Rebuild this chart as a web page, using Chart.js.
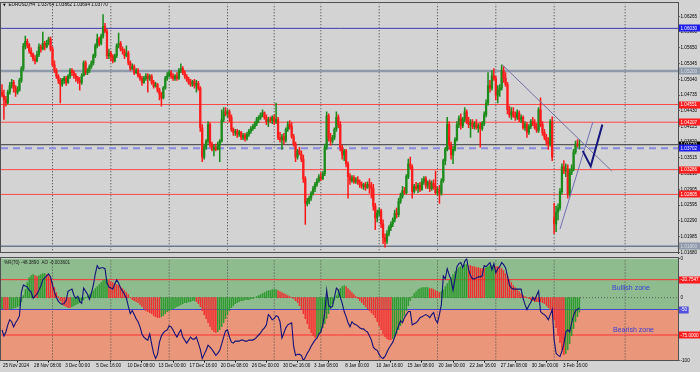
<!DOCTYPE html>
<html>
<head>
<meta charset="utf-8">
<script src="https://cdn.jsdelivr.net/npm/chart.js@4.4.1/dist/chart.umd.min.js"></script>
<style>
  html, body { margin: 0; padding: 0; background: #d3d3d3; }
  .panel { position: absolute; left: 0; width: 700px; }
  #mainBox { top: 0; height: 257px; }
  #subBox { top: 248px; height: 124px; }
</style>
</head>
<body>
<div class="panel" id="mainBox"><canvas id="priceChart"></canvas></div>
<div class="panel" id="subBox"><canvas id="indChart"></canvas></div>
<script>
// EURUSD H4 candles, 25 Nov 2024 16:00 .. 5 Feb 2025
const opens = [
  1.0479,1.0473,1.0464,1.0458,1.0479,1.0492,1.0498,1.0487,1.0479,1.0483,
  1.0502,1.0525,1.0569,1.0578,1.0571,1.0559,1.0553,1.0544,1.0540,1.0552,
  1.0567,1.0563,1.0574,1.0567,1.0574,1.0582,1.0563,1.0532,1.0521,1.0510,
  1.0502,1.0494,1.0502,1.0506,1.0498,1.0510,1.0521,1.0517,1.0511,1.0506,
  1.0502,1.0498,1.0511,1.0536,1.0517,1.0521,1.0529,1.0536,1.0550,1.0569,
  1.0582,1.0574,1.0588,1.0607,1.0597,1.0550,1.0555,1.0548,1.0540,1.0550,
  1.0569,1.0574,1.0563,1.0559,1.0550,1.0555,1.0536,1.0525,1.0529,1.0517,
  1.0521,1.0511,1.0506,1.0498,1.0506,1.0511,1.0506,1.0510,1.0498,1.0490,
  1.0494,1.0483,1.0475,1.0468,1.0487,1.0506,1.0511,1.0517,1.0510,1.0506,
  1.0511,1.0506,1.0521,1.0525,1.0517,1.0510,1.0504,1.0498,1.0494,1.0500,
  1.0492,1.0496,1.0487,1.0410,1.0353,1.0372,1.0384,1.0416,1.0378,1.0368,
  1.0372,1.0368,1.0376,1.0384,1.0426,1.0441,1.0437,1.0441,1.0430,1.0407,
  1.0401,1.0403,1.0397,1.0401,1.0391,1.0395,1.0389,1.0397,1.0403,1.0408,
  1.0412,1.0418,1.0426,1.0430,1.0435,1.0439,1.0430,1.0422,1.0426,1.0424,
  1.0430,1.0422,1.0426,1.0391,1.0387,1.0393,1.0386,1.0407,1.0416,1.0412,
  1.0393,1.0378,1.0353,1.0365,1.0359,1.0349,1.0311,1.0263,1.0267,1.0273,
  1.0283,1.0292,1.0300,1.0307,1.0315,1.0311,1.0321,1.0372,1.0433,1.0391,
  1.0384,1.0391,1.0407,1.0430,1.0416,1.0372,1.0357,1.0365,1.0340,1.0315,
  1.0307,1.0313,1.0305,1.0309,1.0304,1.0300,1.0296,1.0300,1.0294,1.0300,
  1.0296,1.0292,1.0258,1.0235,1.0244,1.0248,1.0223,1.0197,1.0189,1.0204,
  1.0216,1.0223,1.0231,1.0244,1.0241,1.0267,1.0277,1.0288,1.0284,1.0315,
  1.0340,1.0334,1.0286,1.0296,1.0292,1.0298,1.0290,1.0305,1.0311,1.0298,
  1.0304,1.0292,1.0302,1.0296,1.0284,1.0290,1.0283,1.0307,1.0346,1.0368,
  1.0416,1.0376,1.0357,1.0368,1.0387,1.0416,1.0428,1.0414,1.0426,1.0441,
  1.0422,1.0416,1.0420,1.0412,1.0418,1.0410,1.0414,1.0408,1.0418,1.0435,
  1.0458,1.0492,1.0487,1.0511,1.0506,1.0473,1.0483,1.0487,1.0521,1.0506,
  1.0494,1.0445,1.0435,1.0441,1.0433,1.0430,1.0439,1.0426,1.0430,1.0410,
  1.0416,1.0401,1.0412,1.0422,1.0418,1.0410,1.0405,1.0445,1.0416,1.0401,
  1.0391,1.0384,1.0378,1.0422,1.0235,1.0223,1.0246,1.0254,1.0286,1.0334,
  1.0326,1.0330,1.0281,1.0323,1.0330,1.0363,1.0378,1.0376
];
const highs = [
  1.0494,1.0483,1.0471,1.0483,1.0498,1.0504,1.0502,1.0492,1.0490,1.0506,
  1.0529,1.0574,1.0588,1.0582,1.0574,1.0565,1.0555,1.0550,1.0559,1.0573,
  1.0571,1.0596,1.0578,1.0580,1.0586,1.0586,1.0567,1.0540,1.0525,1.0513,
  1.0506,1.0506,1.0510,1.0510,1.0513,1.0525,1.0525,1.0521,1.0515,1.0510,
  1.0508,1.0515,1.0540,1.0540,1.0525,1.0532,1.0540,1.0553,1.0573,1.0592,
  1.0586,1.0592,1.0630,1.0613,1.0601,1.0563,1.0559,1.0552,1.0553,1.0573,
  1.0594,1.0578,1.0567,1.0563,1.0569,1.0559,1.0540,1.0534,1.0532,1.0525,
  1.0525,1.0515,1.0510,1.0510,1.0515,1.0515,1.0513,1.0513,1.0502,1.0498,
  1.0496,1.0487,1.0479,1.0490,1.0510,1.0517,1.0521,1.0521,1.0515,1.0513,
  1.0517,1.0525,1.0534,1.0529,1.0521,1.0513,1.0508,1.0504,1.0502,1.0504,
  1.0502,1.0500,1.0490,1.0416,1.0378,1.0387,1.0422,1.0420,1.0382,1.0376,
  1.0378,1.0382,1.0387,1.0445,1.0449,1.0449,1.0445,1.0445,1.0435,1.0410,
  1.0407,1.0407,1.0405,1.0403,1.0399,1.0399,1.0401,1.0407,1.0412,1.0416,
  1.0422,1.0430,1.0433,1.0439,1.0445,1.0441,1.0435,1.0430,1.0431,1.0433,
  1.0435,1.0458,1.0430,1.0401,1.0397,1.0399,1.0410,1.0422,1.0424,1.0420,
  1.0397,1.0382,1.0368,1.0372,1.0365,1.0357,1.0315,1.0273,1.0277,1.0286,
  1.0296,1.0304,1.0311,1.0319,1.0323,1.0325,1.0378,1.0441,1.0437,1.0399,
  1.0395,1.0410,1.0441,1.0435,1.0422,1.0376,1.0368,1.0368,1.0344,1.0321,
  1.0317,1.0317,1.0313,1.0315,1.0309,1.0305,1.0302,1.0304,1.0305,1.0311,
  1.0304,1.0300,1.0263,1.0250,1.0254,1.0252,1.0231,1.0204,1.0210,1.0220,
  1.0227,1.0235,1.0250,1.0254,1.0273,1.0283,1.0296,1.0294,1.0319,1.0349,
  1.0353,1.0338,1.0300,1.0304,1.0302,1.0304,1.0311,1.0315,1.0315,1.0307,
  1.0309,1.0307,1.0309,1.0326,1.0294,1.0298,1.0311,1.0349,1.0372,1.0430,
  1.0422,1.0382,1.0374,1.0391,1.0422,1.0433,1.0437,1.0430,1.0449,1.0445,
  1.0430,1.0426,1.0426,1.0422,1.0426,1.0418,1.0420,1.0422,1.0441,1.0464,
  1.0517,1.0502,1.0521,1.0525,1.0510,1.0492,1.0494,1.0532,1.0529,1.0517,
  1.0498,1.0452,1.0449,1.0449,1.0441,1.0445,1.0443,1.0435,1.0433,1.0422,
  1.0420,1.0416,1.0426,1.0430,1.0426,1.0418,1.0449,1.0468,1.0422,1.0407,
  1.0397,1.0391,1.0426,1.0431,1.0263,1.0258,1.0262,1.0292,1.0340,1.0346,
  1.0340,1.0338,1.0330,1.0338,1.0368,1.0384,1.0387,1.0386
];
const lows = [
  1.0470,1.0426,1.0452,1.0456,1.0475,1.0487,1.0479,1.0471,1.0475,1.0481,
  1.0498,1.0521,1.0563,1.0565,1.0555,1.0548,1.0540,1.0534,1.0538,1.0548,
  1.0557,1.0561,1.0561,1.0565,1.0571,1.0559,1.0529,1.0517,1.0506,1.0496,
  1.0458,1.0490,1.0496,1.0492,1.0496,1.0506,1.0511,1.0506,1.0500,1.0496,
  1.0483,1.0494,1.0510,1.0513,1.0513,1.0517,1.0525,1.0532,1.0546,1.0565,
  1.0569,1.0571,1.0584,1.0594,1.0544,1.0544,1.0540,1.0536,1.0538,1.0546,
  1.0565,1.0559,1.0553,1.0544,1.0548,1.0532,1.0521,1.0523,1.0513,1.0515,
  1.0508,1.0502,1.0492,1.0496,1.0502,1.0479,1.0502,1.0494,1.0487,1.0489,
  1.0479,1.0464,1.0452,1.0466,1.0485,1.0502,1.0508,1.0506,1.0502,1.0502,
  1.0502,1.0504,1.0517,1.0513,1.0506,1.0500,1.0494,1.0490,1.0490,1.0487,
  1.0479,1.0483,1.0403,1.0344,1.0349,1.0368,1.0380,1.0372,1.0365,1.0355,
  1.0365,1.0367,1.0344,1.0382,1.0422,1.0433,1.0431,1.0422,1.0403,1.0395,
  1.0395,1.0391,1.0393,1.0387,1.0387,1.0384,1.0386,1.0393,1.0399,1.0405,
  1.0408,1.0414,1.0420,1.0426,1.0431,1.0426,1.0416,1.0412,1.0420,1.0418,
  1.0416,1.0418,1.0387,1.0382,1.0368,1.0378,1.0382,1.0403,1.0407,1.0389,
  1.0374,1.0344,1.0349,1.0357,1.0344,1.0304,1.0222,1.0258,1.0262,1.0269,
  1.0279,1.0286,1.0296,1.0304,1.0307,1.0309,1.0317,1.0368,1.0384,1.0376,
  1.0380,1.0387,1.0403,1.0410,1.0365,1.0349,1.0346,1.0334,1.0273,1.0300,
  1.0304,1.0302,1.0302,1.0300,1.0294,1.0292,1.0290,1.0288,1.0292,1.0283,
  1.0273,1.0250,1.0212,1.0227,1.0239,1.0216,1.0185,1.0178,1.0185,1.0200,
  1.0210,1.0218,1.0227,1.0235,1.0237,1.0263,1.0273,1.0281,1.0281,1.0311,
  1.0330,1.0273,1.0283,1.0288,1.0284,1.0286,1.0288,1.0300,1.0292,1.0292,
  1.0286,1.0288,1.0290,1.0281,1.0279,1.0263,1.0279,1.0304,1.0338,1.0365,
  1.0368,1.0349,1.0340,1.0365,1.0384,1.0410,1.0407,1.0410,1.0422,1.0418,
  1.0410,1.0391,1.0408,1.0407,1.0407,1.0401,1.0372,1.0405,1.0414,1.0431,
  1.0454,1.0479,1.0483,1.0502,1.0464,1.0458,1.0471,1.0483,1.0498,1.0490,
  1.0437,1.0430,1.0426,1.0430,1.0424,1.0426,1.0422,1.0420,1.0407,1.0405,
  1.0391,1.0397,1.0408,1.0414,1.0407,1.0401,1.0401,1.0412,1.0395,1.0387,
  1.0376,1.0368,1.0374,1.0346,1.0204,1.0208,1.0231,1.0250,1.0281,1.0321,
  1.0315,1.0273,1.0277,1.0319,1.0326,1.0359,1.0372,1.0369
];
const closes = [
  1.0473,1.0464,1.0458,1.0479,1.0492,1.0498,1.0487,1.0479,1.0483,1.0502,
  1.0525,1.0569,1.0578,1.0571,1.0559,1.0553,1.0544,1.0540,1.0552,1.0567,
  1.0563,1.0574,1.0567,1.0574,1.0582,1.0563,1.0532,1.0521,1.0510,1.0502,
  1.0494,1.0502,1.0506,1.0498,1.0510,1.0521,1.0517,1.0511,1.0506,1.0502,
  1.0498,1.0511,1.0536,1.0517,1.0521,1.0529,1.0536,1.0550,1.0569,1.0582,
  1.0574,1.0588,1.0607,1.0597,1.0550,1.0555,1.0548,1.0540,1.0550,1.0569,
  1.0574,1.0563,1.0559,1.0550,1.0555,1.0536,1.0525,1.0529,1.0517,1.0521,
  1.0511,1.0506,1.0498,1.0506,1.0511,1.0506,1.0510,1.0498,1.0490,1.0494,
  1.0483,1.0475,1.0468,1.0487,1.0506,1.0511,1.0517,1.0510,1.0506,1.0511,
  1.0506,1.0521,1.0525,1.0517,1.0510,1.0504,1.0498,1.0494,1.0500,1.0492,
  1.0496,1.0487,1.0410,1.0353,1.0372,1.0384,1.0416,1.0378,1.0368,1.0372,
  1.0368,1.0376,1.0384,1.0426,1.0441,1.0437,1.0441,1.0430,1.0407,1.0401,
  1.0403,1.0397,1.0401,1.0391,1.0395,1.0389,1.0397,1.0403,1.0408,1.0412,
  1.0418,1.0426,1.0430,1.0435,1.0439,1.0430,1.0422,1.0426,1.0424,1.0430,
  1.0422,1.0426,1.0391,1.0387,1.0393,1.0386,1.0407,1.0416,1.0412,1.0393,
  1.0378,1.0353,1.0365,1.0359,1.0349,1.0311,1.0263,1.0267,1.0273,1.0283,
  1.0292,1.0300,1.0307,1.0315,1.0311,1.0321,1.0372,1.0433,1.0391,1.0384,
  1.0391,1.0407,1.0430,1.0416,1.0372,1.0357,1.0365,1.0340,1.0315,1.0307,
  1.0313,1.0305,1.0309,1.0304,1.0300,1.0296,1.0300,1.0294,1.0300,1.0296,
  1.0292,1.0258,1.0235,1.0244,1.0248,1.0223,1.0197,1.0189,1.0204,1.0216,
  1.0223,1.0231,1.0244,1.0241,1.0267,1.0277,1.0288,1.0284,1.0315,1.0340,
  1.0334,1.0286,1.0296,1.0292,1.0298,1.0290,1.0305,1.0311,1.0298,1.0304,
  1.0292,1.0302,1.0296,1.0284,1.0290,1.0283,1.0307,1.0346,1.0368,1.0416,
  1.0376,1.0357,1.0368,1.0387,1.0416,1.0428,1.0414,1.0426,1.0441,1.0422,
  1.0416,1.0420,1.0412,1.0418,1.0410,1.0414,1.0408,1.0418,1.0435,1.0458,
  1.0492,1.0487,1.0511,1.0506,1.0473,1.0483,1.0487,1.0521,1.0506,1.0494,
  1.0445,1.0435,1.0441,1.0433,1.0430,1.0439,1.0426,1.0430,1.0410,1.0416,
  1.0401,1.0412,1.0422,1.0418,1.0410,1.0405,1.0445,1.0416,1.0401,1.0391,
  1.0384,1.0378,1.0422,1.0353,1.0223,1.0246,1.0254,1.0286,1.0334,1.0326,
  1.0330,1.0281,1.0323,1.0330,1.0363,1.0378,1.0376,1.0377
];

// Williams %R(70)
const wpr = [
  -70,-76,-72,-65,-60,-62,-67,-63,-60,-56,
  -33,-26,-27,-28,-31,-33,-39,-37,-35,-31,
  -27,-21,-19,-17,-15,-18,-26,-33,-38,-42,
  -44,-45,-44,-41,-32,-31,-30,-36,-39,-37,
  -42,-44,-29,-32,-35,-40,-34,-26,-15,-7,
  -10,-9,-9,-10,-24,-28,-29,-30,-25,-21,
  -24,-29,-32,-35,-39,-47,-54,-51,-55,-59,
  -62,-67,-74,-77,-79,-80,-74,-84,-93,-98,
  -94,-82,-76,-73,-71,-70,-66,-67,-70,-74,
  -77,-73,-70,-77,-80,-83,-80,-77,-79,-79,
  -77,-83,-89,-98,-94,-90,-85,-87,-89,-92,
  -95,-93,-90,-84,-77,-71,-70,-77,-82,-83,
  -81,-81,-81,-80,-80,-81,-81,-80,-80,-80,
  -79,-77,-75,-73,-70,-68,-65,-55,-57,-60,
  -59,-56,-57,-62,-78,-73,-68,-65,-64,-63,
  -86,-95,-94,-94,-95,-100,-97,-93,-90,-86,
  -83,-80,-78,-74,-72,-65,-53,-31,-46,-48,
  -47,-38,-29,-31,-38,-44,-52,-57,-63,-67,
  -62,-64,-65,-66,-68,-69,-69,-71,-72,-76,
  -80,-87,-89,-90,-94,-97,-98,-96,-92,-88,
  -85,-82,-77,-71,-66,-61,-63,-58,-55,-52,
  -52,-65,-64,-63,-61,-58,-57,-56,-55,-56,
  -58,-55,-53,-60,-63,-55,-45,-17,-20,-10,
  -16,-21,-31,-20,-8,-5,-4,-9,-3,0,
  -11,-17,-20,-20,-19,-18,-18,-17,-7,-8,
  -6,-4,-11,-5,-14,-10,-8,-4,-6,-9,
  -17,-26,-29,-30,-30,-30,-30,-30,-39,-45,
  -50,-46,-43,-38,-41,-36,-32,-52,-54,-55,
  -57,-60,-55,-50,-80,-93,-95,-96,-91,-84,
  -72,-70,-72,-63,-56,-51,-50,-48.389
];

// Awesome Oscillator
const ao = [
  -0.00275,-0.00288,-0.003,-0.003,-0.00288,-0.00275,-0.00263,-0.0025,-0.00225,-0.002,
  -0.001,0.0005,0.002,0.00375,0.005,0.0055,0.00575,0.0055,0.00525,0.0055,
  0.00575,0.006,0.006,0.00575,0.0055,0.00475,0.00375,0.0025,0.00125,0.00025,
  -0.00075,-0.0015,-0.002,-0.00225,-0.0025,-0.0025,-0.00225,-0.002,-0.00175,-0.0015,
  -0.00125,-0.00075,-0.0005,0,0.00025,0.00075,0.00125,0.00175,0.00225,0.00275,
  0.00325,0.00375,0.00425,0.0045,0.0045,0.00425,0.004,0.00375,0.0035,0.00325,
  0.003,0.00275,0.00225,0.00175,0.00125,0.00075,0,-0.0005,-0.00075,-0.001,
  -0.00125,-0.00175,-0.00225,-0.00275,-0.00325,-0.0035,-0.00375,-0.004,-0.0045,-0.00475,
  -0.005,-0.005,-0.00475,-0.0045,-0.004,-0.0035,-0.00325,-0.003,-0.00275,-0.0025,
  -0.00225,-0.002,-0.00175,-0.0015,-0.00125,-0.00125,-0.001,-0.001,-0.00075,-0.00075,
  -0.001,-0.0015,-0.00225,-0.00325,-0.00425,-0.00525,-0.00625,-0.00725,-0.008,-0.0085,
  -0.00875,-0.0085,-0.008,-0.00725,-0.00625,-0.00525,-0.00425,-0.00325,-0.0025,-0.002,
  -0.0015,-0.00125,-0.001,-0.00075,-0.00075,-0.0005,-0.0005,-0.0005,-0.00025,-0.00025,
  0,0.00025,0.0005,0.00075,0.001,0.00125,0.0015,0.00175,0.00175,0.002,
  0.002,0.002,0.00175,0.0015,0.00125,0.001,0.00075,0.0005,0.00025,0,
  -0.00025,-0.00075,-0.00125,-0.002,-0.003,-0.004,-0.00525,-0.0065,-0.00775,-0.00875,
  -0.0095,-0.01,-0.00975,-0.00925,-0.0085,-0.0075,-0.0065,-0.00525,-0.004,-0.00275,
  -0.0015,-0.0005,0.0005,0.0015,0.00225,0.00275,0.003,0.00275,0.00225,0.00175,
  0.00125,0.00075,0.00025,-0.00025,-0.00075,-0.00125,-0.00175,-0.00225,-0.00275,-0.00325,
  -0.00375,-0.00425,-0.005,-0.006,-0.007,-0.008,-0.009,-0.00975,-0.01025,-0.0105,
  -0.0105,-0.01025,-0.00975,-0.009,-0.008,-0.007,-0.00575,-0.0045,-0.00325,-0.002,
  -0.00075,0.00025,0.001,0.0015,0.002,0.00225,0.0025,0.0025,0.0025,0.0025,
  0.00225,0.00225,0.002,0.00175,0.0015,0.00125,0.0015,0.002,0.00275,0.0035,
  0.00425,0.005,0.00575,0.0065,0.007,0.0075,0.00775,0.008,0.00825,0.00825,
  0.008,0.008,0.00775,0.00775,0.0075,0.0075,0.00725,0.00725,0.00725,0.0075,
  0.00775,0.008,0.008,0.008,0.00775,0.00775,0.0075,0.00725,0.00675,0.006,
  0.00525,0.0045,0.00375,0.003,0.0025,0.002,0.0015,0.001,0.0005,0.00025,
  0,-0.00025,-0.0005,-0.00075,-0.001,-0.001,-0.001,-0.001,-0.00125,-0.0015,
  -0.002,-0.0025,-0.003,-0.00375,-0.0055,-0.0075,-0.0095,-0.01125,-0.013,-0.01425,
  -0.014,-0.013,-0.0115,-0.0095,-0.00775,-0.006,-0.00475,-0.003601
];

const timeLabels = ['25 Nov 2024', '28 Nov 08:00', '3 Dec 00:00', '5 Dec 16:00', '10 Dec 08:00',
  '13 Dec 00:00', '17 Dec 16:00', '20 Dec 08:00', '26 Dec 00:00', '30 Dec 16:00', '3 Jan 08:00',
  '8 Jan 00:00', '10 Jan 16:00', '15 Jan 08:00', '20 Jan 00:00', '22 Jan 16:00', '27 Jan 08:00',
  '30 Jan 00:00', '3 Feb 16:00'];
const timeLabelBars = [0, 16, 32, 48, 64, 80, 96, 112, 128, 144, 160, 176, 192, 208, 224, 240, 256, 272, 288];
const priceTicks = [1.06265, 1.05960, 1.05650, 1.05345, 1.05040, 1.04735, 1.04430, 1.04125,
  1.03820, 1.03515, 1.03210, 1.02905, 1.02595, 1.02290, 1.01985, 1.01680];
const weekSeparators = [26, 56, 86, 116, 140, 164, 194, 224, 254, 284, 320.5];

// horizontal price levels drawn on the chart
const levelPrices = [1.06030, 1.05200, 1.04551, 1.04207, 1.03770, 1.03702, 1.03286, 1.02805, 1.01800];
// hand drawn objects (bar index, price)
const trendDown = [{ x: 257.4, y: 1.0532 }, { x: 313.6, y: 1.0326 }];
const trendUp = [{ x: 287.0, y: 1.0213 }, { x: 303.9, y: 1.0421 }];
const projection = [{ x: 298.7, y: 1.0365 }, { x: 302.8, y: 1.0335 }, { x: 308.8, y: 1.0416 }];

const wprLevels = [-20.7547, -50, -75];
const wprLevelText = ['-20.7547', '-50', '-75.0000'];
const zoneNotes = [{ text: 'Bullish zone', x: 313.8, y: -29 }, { text: 'Bearish zone', x: 314.3, y: -70 }];

const UP = '#1d8c1d';
const DOWN = '#ff1c1c';
const XMIN = -0.5;
const XMAX = 347.7;
const PMIN = 1.01662;
const PMAX = 1.06508;
const AO_MIN = -0.01571;
const AO_MAX = 0.00979;
const FONT_FAMILY = '"Liberation Sans", Arial, sans-serif';
const tickFont = { family: FONT_FAMILY, size: 4.6 };

const levelLook = [
  { line: '#3a3ab4', width: 1, dash: [], box: '#1c1ce8', fg: '#ffffff' },
  { line: '#8e9aaa', width: 2.5, dash: [], box: '#8e9aaa', fg: '#d9dde3' },
  { line: '#ff4848', width: 1, dash: [], box: '#ff1c1c', fg: '#ffffff' },
  { line: '#ff4848', width: 1, dash: [], box: '#ff1c1c', fg: '#ffffff' },
  { line: '#3a3a3a', width: 1, dash: [], box: '#000000', fg: '#ffffff' },
  { line: '#8a8ae0', width: 2, dash: [7, 5], box: '#1c1ce8', fg: '#ffffff' },
  { line: '#ff4848', width: 1, dash: [], box: '#ff1c1c', fg: '#ffffff' },
  { line: '#ff4848', width: 1, dash: [], box: '#ff1c1c', fg: '#ffffff' },
  { line: '#6b7a8e', width: 1.5, dash: [], box: '#8e9aaa', fg: '#d9dde3' }
];

const candleColors = closes.map((c, i) => (c >= opens[i] ? UP : DOWN));

const aoColors = [];
let aoRising = true;
ao.forEach((v, i) => {
  if (i > 0 && v > ao[i - 1]) aoRising = true;
  if (i > 0 && v < ao[i - 1]) aoRising = false;
  aoColors.push(aoRising ? '#2f9a2f' : '#f03030');
});

function separatorPoints(lo, hi) {
  const pts = [];
  weekSeparators.forEach(s => {
    pts.push({ x: s, y: lo }, { x: s, y: hi }, { x: s, y: null });
  });
  return pts;
}

function flatLine(y, extra) {
  return Object.assign({
    type: 'line',
    data: [{ x: XMIN, y: y }, { x: XMAX, y: y }],
    pointRadius: 0,
    fill: false
  }, extra);
}

// labels boxed on the right price scale
const axisTags = {
  id: 'axisTags',
  afterDraw(chart, args, opts) {
    const ctx = chart.ctx;
    const area = chart.chartArea;
    ctx.save();
    ctx.font = '4.6px ' + FONT_FAMILY;
    ctx.textBaseline = 'middle';
    ctx.textAlign = 'left';
    (opts.tags || []).forEach(t => {
      const y = chart.scales[t.axis].getPixelForValue(t.value);
      if (t.bg) {
        const w = t.fit ? ctx.measureText(t.text).width + 3 : chart.width - area.right - 1;
        ctx.fillStyle = t.bg;
        ctx.fillRect(area.right + 1, Math.round(y) - 3.5, w, 7);
      }
      ctx.fillStyle = t.fg;
      ctx.fillText(t.text, area.right + 2.5, y + 0.3);
    });
    ctx.restore();
  }
};

const frame = {
  id: 'frame',
  afterDraw(chart, args, opts) {
    const { ctx, chartArea: a } = chart;
    ctx.save();
    ctx.strokeStyle = opts.color || '#4a4a4a';
    ctx.lineWidth = 1;
    ctx.strokeRect(Math.floor(a.left) - 0.5, Math.floor(a.top) - 0.5,
      Math.round(a.right - a.left) + 1, Math.round(a.bottom - a.top) + 1);
    ctx.restore();
  }
};

const captions = {
  id: 'captions',
  afterDatasetsDraw(chart, args, opts) {
    const ctx = chart.ctx;
    ctx.save();
    ctx.textBaseline = 'middle';
    ctx.textAlign = 'left';
    (opts.items || []).forEach(it => {
      ctx.font = it.font;
      ctx.fillStyle = it.color;
      let x = it.px, y = it.py;
      if (it.x !== undefined) {
        x = chart.scales.x.getPixelForValue(it.x);
        y = chart.scales[it.axis].getPixelForValue(it.y);
      }
      ctx.fillText(it.text, x, y);
    });
    ctx.restore();
  }
};

Chart.defaults.font.family = FONT_FAMILY;

new Chart(document.getElementById('priceChart'), {
  type: 'bar',
  data: {
    datasets: [
      { type: 'line', data: projection, borderColor: '#16167c', borderWidth: 2, pointRadius: 0, fill: false, order: 0 },
      { type: 'line', data: trendDown, borderColor: '#6f6fa0', borderWidth: 1, pointRadius: 0, fill: false, order: 0 },
      { type: 'line', data: trendUp, borderColor: '#6f6fb4', borderWidth: 1, pointRadius: 0, fill: false, order: 0 },
      {
        label: 'bodies',
        data: opens.map((o, i) => ({ x: i, y: [o, closes[i]] })),
        backgroundColor: candleColors,
        barThickness: 1.6,
        minBarLength: 0.8,
        grouped: false,
        order: 1
      },
      {
        label: 'wicks',
        data: lows.map((l, i) => ({ x: i, y: [l, highs[i]] })),
        backgroundColor: candleColors,
        barThickness: 0.9,
        grouped: false,
        order: 2
      },
      ...levelPrices.map((p, k) => flatLine(p, {
        borderColor: levelLook[k].line,
        borderWidth: levelLook[k].width,
        borderDash: levelLook[k].dash,
        order: 3
      })),
      {
        type: 'line',
        data: separatorPoints(PMIN, PMAX),
        borderColor: '#3c3c3c',
        borderWidth: 1,
        borderDash: [1, 2],
        pointRadius: 0,
        spanGaps: false,
        fill: false,
        order: 4
      }
    ]
  },
  options: {
    responsive: true,
    maintainAspectRatio: false,
    animation: false,
    events: [],
    layout: { padding: { left: 1, top: 2, right: 0, bottom: 1 } },
    plugins: {
      legend: { display: false },
      tooltip: { enabled: false },
      axisTags: {
        tags: levelPrices.map((p, k) => ({
          axis: 'y', value: p, text: p.toFixed(5), bg: levelLook[k].box, fg: levelLook[k].fg
        }))
      },
      frame: { color: '#505050' },
      captions: {
        items: [
          { text: '\u25BC', px: 3, py: 5, font: '3.5px "DejaVu Sans"', color: '#000' },
          { text: 'EURUSD,H4  1.03764 1.03862 1.03694 1.03770', px: 8.5, py: 5, font: '4.6px ' + FONT_FAMILY, color: '#000' }
        ]
      }
    },
    scales: {
      x: { type: 'linear', min: XMIN, max: XMAX, display: false, offset: false },
      y: {
        position: 'right',
        min: PMIN,
        max: PMAX,
        bounds: 'data',
        afterBuildTicks: s => { s.ticks = priceTicks.map(v => ({ value: v })); },
        afterFit: s => { s.width = 22; },
        ticks: { font: tickFont, color: '#000', padding: 1, autoSkip: false, callback: v => v.toFixed(5) },
        grid: { drawOnChartArea: false, drawTicks: true, tickLength: 1.5, color: '#000' },
        border: { display: true, color: '#404040' }
      }
    }
  },
  plugins: [axisTags, frame, captions]
});

const wprLook = [
  { line: '#ff3030', box: '#ff1c1c', fit: false },
  { line: '#4545d2', box: '#5252dc', fit: true },
  { line: '#ff3030', box: '#ff1c1c', fit: false }
];

new Chart(document.getElementById('indChart'), {
  type: 'bar',
  data: {
    datasets: [
      {
        type: 'line',
        label: '%R(70)',
        data: wpr.map((v, i) => ({ x: i, y: v })),
        borderColor: '#12127a',
        borderWidth: 1.1,
        pointRadius: 0,
        fill: false,
        order: 0
      },
      {
        label: 'AO',
        data: ao.map((v, i) => ({ x: i, y: v })),
        yAxisID: 'ao',
        backgroundColor: aoColors,
        barThickness: 0.8,
        grouped: false,
        order: 1
      },
      ...wprLevels.map((v, k) => flatLine(v, { borderColor: wprLook[k].line, borderWidth: 1, order: 2 })),
      flatLine(0, { yAxisID: 'ao', borderColor: '#5a5a5a', borderWidth: 1, borderDash: [1, 2], order: 2 }),
      {
        type: 'line',
        data: separatorPoints(-100, 0),
        borderColor: '#4a4a4a',
        borderWidth: 1,
        borderDash: [1, 2],
        pointRadius: 0,
        spanGaps: false,
        fill: false,
        order: 3
      },
      flatLine(0, { borderWidth: 0, fill: { value: -50 }, backgroundColor: '#8fbc8f', order: 9 }),
      flatLine(-100, { borderWidth: 0, fill: { value: -50 }, backgroundColor: '#e9967a', order: 9 })
    ]
  },
  options: {
    responsive: true,
    maintainAspectRatio: false,
    animation: false,
    events: [],
    layout: { padding: { left: 1, top: 10.5, right: 0, bottom: 0 } },
    plugins: {
      legend: { display: false },
      tooltip: { enabled: false },
      axisTags: {
        tags: [
          ...wprLevels.map((v, k) => ({ axis: 'y', value: v, text: wprLevelText[k], bg: wprLook[k].box, fg: '#ffffff', fit: wprLook[k].fit })),
          { axis: 'ao', value: 0, text: '0', fg: '#000000' }
        ]
      },
      frame: { color: '#505050' },
      captions: {
        items: [
          { text: '%R(70) -48.3890  AO -0.003601', px: 4, py: 15, font: '4.6px ' + FONT_FAMILY, color: '#1a1a1a' },
          ...zoneNotes.map(n => ({ text: n.text, x: n.x, y: n.y, axis: 'y', font: '7px ' + FONT_FAMILY, color: '#3a3ad6' }))
        ]
      }
    },
    scales: {
      x: {
        type: 'linear',
        min: XMIN,
        max: XMAX,
        offset: false,
        position: 'bottom',
        afterBuildTicks: s => { s.ticks = timeLabelBars.map(v => ({ value: v })); },
        afterFit: s => { s.height = 11.5; },
        ticks: {
          font: tickFont,
          color: '#000',
          autoSkip: false,
          maxRotation: 0,
          minRotation: 0,
          align: 'start',
          labelOffset: 1,
          padding: 0.5,
          callback: (v, idx) => timeLabels[idx]
        },
        grid: { drawOnChartArea: false, drawTicks: true, tickLength: 2, color: '#000' },
        border: { display: true, color: '#404040' }
      },
      y: {
        position: 'right',
        min: -100,
        max: 0,
        bounds: 'data',
        afterBuildTicks: s => { s.ticks = [{ value: 0 }, { value: -100 }]; },
        afterFit: s => { s.width = 22; },
        ticks: { font: tickFont, color: '#000', padding: 1, autoSkip: false, callback: v => String(v) },
        grid: { drawOnChartArea: false, drawTicks: true, tickLength: 1.5, color: '#000' },
        border: { display: true, color: '#404040' }
      },
      ao: { display: false, min: AO_MIN, max: AO_MAX }
    }
  },
  plugins: [axisTags, frame, captions]
});
</script>
</body>
</html>
